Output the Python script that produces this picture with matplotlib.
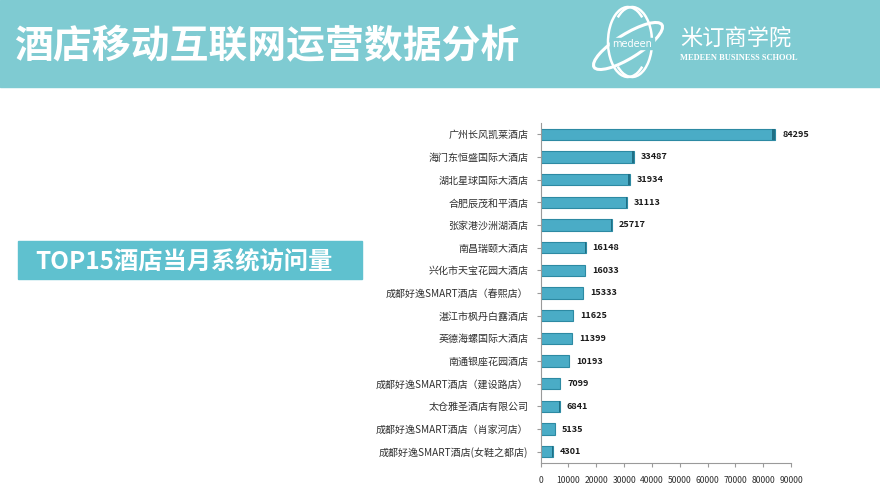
import numpy as np
import matplotlib.pyplot as plt
from matplotlib.patches import Rectangle, Ellipse, Arc

plt.rcParams['font.family'] = ['Noto Sans CJK SC', 'DejaVu Sans']

hotels = ['广州长风凯莱酒店', '海门东恒盛国际大酒店', '湖北星球国际大酒店', '合肥辰茂和平酒店',
          '张家港沙洲湖酒店', '南昌瑞颐大酒店', '兴化市天宝花园大酒店', '成都好逸SMART酒店（春熙店）',
          '湛江市枫丹白露酒店', '英德海螺国际大酒店', '南通银座花园酒店', '成都好逸SMART酒店（建设路店）',
          '太仓雅圣酒店有限公司', '成都好逸SMART酒店（肖家河店）', '成都好逸SMART酒店(女鞋之都店)']
visits = [84295, 33487, 31934, 31113, 25717, 16148, 16033, 15333,
          11625, 11399, 10193, 7099, 6841, 5135, 4301]
xticks = [0, 10000, 20000, 30000, 40000, 50000, 60000, 70000, 80000, 90000]

fig = plt.figure(figsize=(8.8, 4.95), dpi=100)

# header band
bg = fig.add_axes([0, 0, 1, 1])
bg.set_xlim(0, 880)
bg.set_ylim(495, 0)
bg.axis('off')
bg.add_patch(Rectangle((0, 0), 880, 87, color='#7fcbd2', zorder=0))
bg.text(14, 47, '酒店移动互联网运营数据分析', color='white', fontsize=28,
        fontweight='bold', va='center', ha='left')

# logo
bg.add_patch(Ellipse((628, 46), 80, 24, angle=-32, fill=False, ec='white', lw=2.2))
bg.add_patch(Arc((628, 42), 40, 70, theta1=60, theta2=300, ec='white', lw=1.8))
bg.add_patch(Arc((632, 42), 40, 70, theta1=-120, theta2=120, ec='white', lw=1.8))
bg.add_patch(Rectangle((610, 38), 44, 11, color='#7fcbd2', zorder=3))
bg.text(632, 44, 'medeen', color='white', fontsize=7, ha='center', va='center',
        family='DejaVu Sans', zorder=4)
bg.text(680, 39, '米订商学院', color='white', fontsize=16, ha='left', va='center')
bg.text(680, 58, 'MEDEEN BUSINESS SCHOOL', color='white', fontsize=6, ha='left',
        va='center', family='Liberation Serif', fontweight='bold')

# label box
bg.add_patch(Rectangle((18, 241), 344, 38, color='#5fc1cf', zorder=1))
bg.text(35, 261, 'TOP15酒店当月系统访问量', color='white', fontsize=17.5,
        fontweight='bold', ha='left', va='center', zorder=2)

# chart
ax = fig.add_axes([0.6144, 0.0646, 0.2846, 0.687])
y = np.arange(len(hotels))
ax.barh(y, visits, height=0.5, color='#4aacc6', edgecolor='#2d8aa3', linewidth=0.8)
ax.barh(y, [v * 0.015 for v in visits], left=[v * 0.985 for v in visits], height=0.5,
        color='#1f6f85', edgecolor='none')
for yi, v in zip(y, visits):
    ax.text(v + 2500, yi, str(v), fontsize=6.5, fontweight='bold', color='#1a1a1a',
            va='center', ha='left')
ax.set_yticks(y)
ax.set_yticklabels(hotels, fontsize=7.2, color='#303030')
ax.set_ylim(len(hotels) - 0.5, -0.5)
ax.set_xlim(0, 90000)
ax.set_xticks(xticks)
ax.set_xticklabels([str(t) for t in xticks], fontsize=6.2, color='#303030')
for side in ['top', 'right']:
    ax.spines[side].set_visible(False)
ax.spines['left'].set_color('#9a9a9a')
ax.spines['bottom'].set_color('#9a9a9a')
ax.tick_params(axis='both', colors='#9a9a9a', length=3, width=0.8)
ax.tick_params(axis='y', labelcolor='#303030', pad=6)
ax.tick_params(axis='x', labelcolor='#303030', pad=6)

fig.savefig('out.png', dpi=100)
